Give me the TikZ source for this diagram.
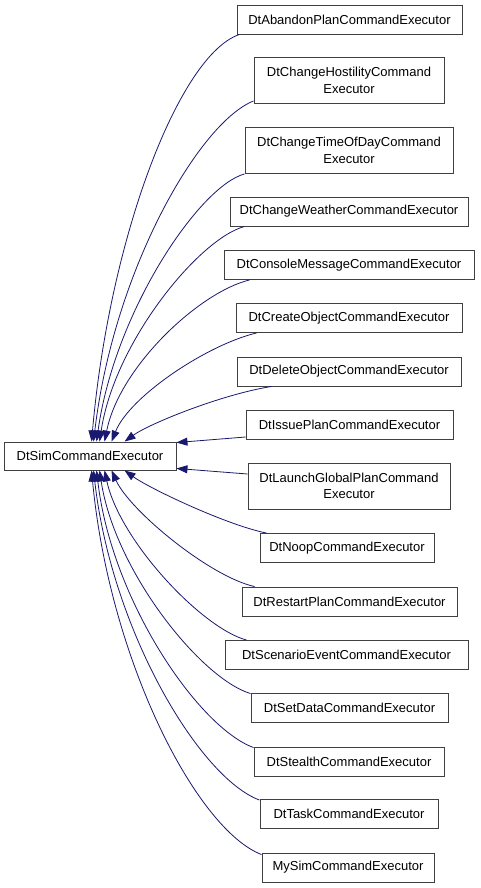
\documentclass[tikz,border=0pt]{standalone}
\usepackage{fontspec}
\setmainfont{Liberation Sans}
\usetikzlibrary{arrows.meta}
\definecolor{edgeblue}{HTML}{191970}
\definecolor{boxline}{HTML}{404040}
\tikzset{
  cls/.style={draw=boxline, line width=0.9pt, fill=white, inner sep=0pt, minimum height=29pt,
    align=center, font=\fontsize{13}{16.5}\selectfont},
  cls2/.style={cls, minimum height=46pt},
  inh/.style={draw=edgeblue, line width=0.8pt, -{Triangle[length=11pt,width=8pt]}}
}
\begin{document}
\begin{tikzpicture}[x=1pt,y=-1pt]
\useasboundingbox (0,0) rectangle (480,888);
\fill[white] (0,0) rectangle (480,888);
\node[cls, minimum width=172pt, minimum height=28pt] (base) at (90,456) {DtSimCommandExecutor};

\node[cls, minimum width=225pt] (abandon) at (349.5,19.5) {DtAbandonPlanCommandExecutor};
\node[cls2, minimum width=190pt] (hostility) at (349,80.5) {DtChangeHostilityCommand\\Executor};
\node[cls2, minimum width=208pt] (timeofday) at (349,150.5) {DtChangeTimeOfDayCommand\\Executor};
\node[cls, minimum width=238pt] (weather) at (349,211.5) {DtChangeWeatherCommandExecutor};
\node[cls, minimum width=250pt] (console) at (349,265) {DtConsoleMessageCommandExecutor};
\node[cls, minimum width=226pt] (create) at (349,318) {DtCreateObjectCommandExecutor};
\node[cls, minimum width=224pt] (delete) at (349,371.5) {DtDeleteObjectCommandExecutor};
\node[cls, minimum width=207pt] (issue) at (349.5,425) {DtIssuePlanCommandExecutor};
\node[cls2, minimum width=202pt] (launch) at (349,486) {DtLaunchGlobalPlanCommand\\Executor};
\node[cls, minimum width=174pt] (noop) at (347,548) {DtNoopCommandExecutor};
\node[cls, minimum width=215pt] (restart) at (349.5,601.5) {DtRestartPlanCommandExecutor};
\node[cls, minimum width=243pt] (scenario) at (346.5,655) {DtScenarioEventCommandExecutor};
\node[cls, minimum width=197pt] (setdata) at (349.5,707.5) {DtSetDataCommandExecutor};
\node[cls, minimum width=190pt] (stealth) at (349,761.5) {DtStealthCommandExecutor};
\node[cls, minimum width=178pt] (task) at (349,814) {DtTaskCommandExecutor};
\node[cls, minimum width=172pt] (mysim) at (348,867.5) {MySimCommandExecutor};

% upper edges
\draw[inh] ([xshift=3pt]abandon.south west) .. controls +(-60,20) and +(18,-205) .. ([xshift=88pt]base.north west);
\draw[inh] ([yshift=3pt]hostility.south west) .. controls +(-55,22) and +(20,-170) .. ([xshift=90pt]base.north west);
\draw[inh] (timeofday.south west) .. controls +(-45,12) and +(18,-130) .. ([xshift=93pt]base.north west);
\draw[inh] ([xshift=15pt]weather.south west) .. controls +(-45,12) and +(15,-100) .. ([xshift=96pt]base.north west);
\draw[inh] ([xshift=26pt]console.south west) .. controls +(-50,12) and +(15,-75) .. ([xshift=101pt]base.north west);
\draw[inh] ([xshift=21pt]create.south west) .. controls +(-50,12) and +(18,-45) .. ([xshift=108pt]base.north west);
\draw[inh] ([xshift=35pt]delete.south west) .. controls +(-50,8) and +(25,-18) .. ([xshift=121pt]base.north west);
% middle edges
\draw[inh] ([yshift=-12pt]issue.west) -- ([yshift=-1pt]base.north east);
\draw[inh] ([yshift=12pt]launch.west) -- ([yshift=2pt]base.south east);
% lower edges
\draw[inh] ([xshift=7pt]noop.north west) .. controls +(-40,-8) and +(25,18) .. ([xshift=121pt]base.south west);
\draw[inh] ([xshift=13pt]restart.north west) .. controls +(-45,-10) and +(18,40) .. ([xshift=108pt]base.south west);
\draw[inh] ([xshift=22pt]scenario.north west) .. controls +(-45,-12) and +(15,70) .. ([xshift=101pt]base.south west);
\draw[inh] ([yshift=-1pt]setdata.north west) .. controls +(-50,-15) and +(15,100) .. ([xshift=96pt]base.south west);
\draw[inh] ([yshift=-1pt]stealth.north west) .. controls +(-55,-20) and +(15,130) .. ([xshift=93pt]base.south west);
\draw[inh] ([yshift=-1pt]task.north west) .. controls +(-60,-22) and +(18,160) .. ([xshift=90pt]base.south west);
\draw[inh] ([yshift=-2pt]mysim.north west) .. controls +(-65,-25) and +(18,190) .. ([xshift=88pt]base.south west);
\end{tikzpicture}
\end{document}
